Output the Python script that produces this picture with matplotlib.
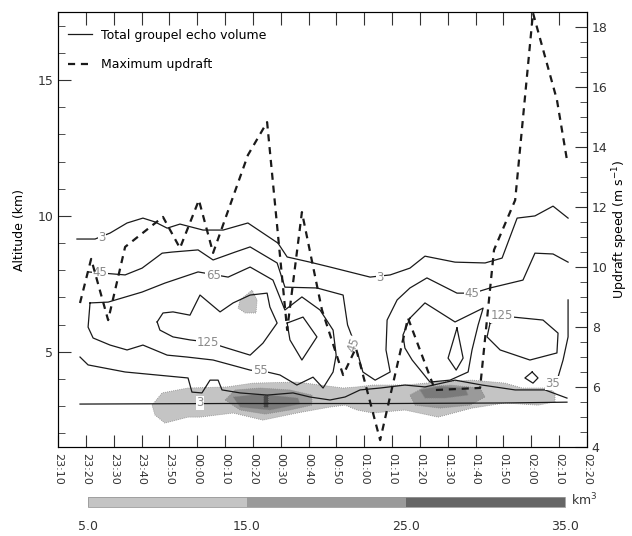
import numpy as np
import matplotlib
matplotlib.use('Agg')
from matplotlib import pyplot as plt
from matplotlib.colors import ListedColormap, BoundaryNorm
from matplotlib.patches import Polygon
from matplotlib.ticker import MultipleLocator
import matplotlib.colorbar as mcolorbar

# time axis: minutes after 23:10
time_ticks = list(range(0, 200, 10))
time_labels = ['23:10', '23:20', '23:30', '23:40', '23:50', '00:00', '00:10',
               '00:20', '00:30', '00:40', '00:50', '01:00', '01:10', '01:20',
               '01:30', '01:40', '01:50', '02:00', '02:10', '02:20']

# maximum updraft (m/s)
updraft_t = [7.9, 11.9, 18.0, 24.1, 37.7, 43.8, 50.6, 55.7, 68.2, 75.1, 82.3,
             87.6, 94.8, 102.4, 107.0, 115.7, 125.7, 135.4, 151.6, 156.6,
             164.2, 170.6, 179.2, 182.8]
updraft_w = [8.8, 10.27, 8.23, 10.67, 11.67, 10.63, 12.23, 10.47, 13.73, 14.83,
             7.9, 11.83, 8.57, 6.4, 7.3, 4.23, 8.3, 5.9, 5.97, 10.57, 12.23,
             18.47, 15.57, 13.57]

# contour lines (time, altitude km)
c3_top_t = [6.8, 13.3, 18.7, 24.8, 30.5, 34.8, 39.2, 43.8, 52.1, 59.3, 68.2,
            73.6, 79.0, 82.3, 90.5, 97.7, 112.1, 119.3, 126.4, 131.8, 142.6,
            153.4, 159.5, 164.9, 171.3, 177.8, 183.2]
c3_top_z = [9.15, 9.15, 9.37, 9.74, 9.92, 9.78, 9.55, 9.70, 9.48, 9.48, 9.74,
            9.37, 9.0, 8.49, 8.30, 8.12, 7.75, 7.83, 8.08, 8.52, 8.30, 8.27,
            8.45, 9.92, 10.0, 10.36, 9.92]

c3_bot_t = [7.9, 60.0, 120.0, 160.0, 182.8]
c3_bot_z = [3.08, 3.10, 3.10, 3.12, 3.15]

c45_t = [10.8, 20.5, 24.1, 30.2, 37.4, 40.9, 50.3, 55.7, 63.6, 69.0, 78.7,
         81.5, 93.0, 102.4, 104.0, 107.0, 109.5, 113.9, 119.3, 117.8, 118.2,
         121.8, 126.4, 132.5, 143.3, 149.1, 155.2, 167.0, 171.3, 177.8, 183.2]
c45_z = [7.94, 7.86, 7.83, 8.08, 8.63, 8.67, 8.75, 8.38, 8.67, 8.86, 8.27,
         7.38, 7.35, 7.09, 5.99, 5.18, 4.26, 3.96, 4.26, 5.07, 6.17,
         6.91, 7.35, 7.72, 7.16, 7.16, 7.35, 7.64, 8.63, 8.60, 8.30]

c65_t = [11.5, 18.0, 30.2, 38.4, 50.3, 61.1, 69.0, 77.2, 81.5, 87.6, 94.1,
         98.8, 99.9, 98.8, 95.2, 91.6, 85.8, 79.7, 75.1, 69.0, 55.7, 46.3,
         39.2, 30.5, 24.8, 18.7, 12.6, 10.8, 11.5]
c65_z = [6.80, 6.83, 7.20, 7.53, 7.94, 7.75, 8.12, 7.64, 6.54, 7.02, 6.54,
         5.80, 4.88, 4.26, 3.67, 4.07, 3.78, 4.15, 4.26, 4.33, 4.70, 4.81,
         4.88, 5.25, 5.07, 5.25, 5.51, 5.91, 6.80]

c125_t = [35.6, 37.7, 41.3, 47.4, 51.0, 58.2, 62.9, 69.0, 75.1, 76.1, 78.7,
          73.6, 69.0, 60.7, 53.9, 47.4, 41.3, 36.6, 35.6]
c125_z = [6.10, 6.43, 6.47, 6.35, 7.09, 6.47, 6.80, 7.09, 7.16, 6.65, 6.06,
          5.32, 4.88, 5.14, 5.36, 5.44, 5.55, 5.80, 6.10]

cdia_t = [82.3, 88.0, 93.0, 87.6, 83.3, 82.3]
cdia_z = [6.06, 6.28, 5.55, 4.70, 5.44, 6.06]

clow_t = [7.9, 10.8, 24.1, 46.7, 48.1, 51.7, 54.6, 57.5, 58.9, 65.4, 75.1,
          84.4, 90.5, 97.7, 103.1, 108.5, 115.7, 124.6, 131.8, 142.6, 152.3,
          164.2, 174.9, 182.8]
clow_z = [4.81, 4.52, 4.26, 4.04, 3.52, 3.49, 3.96, 3.96, 3.60, 3.49, 3.41,
          3.49, 3.34, 3.23, 3.34, 3.60, 3.67, 3.78, 3.71, 3.96, 3.78, 3.60,
          3.60, 3.30]

cmid_t = [126.4, 131.8, 142.6, 152.7, 150.9, 148.7, 147.3, 140.8, 133.6,
          127.2, 124.6, 123.9, 126.4]
cmid_z = [6.24, 6.80, 6.10, 6.61, 5.99, 5.07, 4.26, 3.96, 3.89, 4.70, 5.14,
          5.62, 6.24]

c125r_t = [155.2, 163.4, 174.2, 179.6, 179.2, 169.5, 158.8, 154.1, 155.2]
c125r_z = [6.06, 6.28, 6.17, 5.69, 4.96, 4.70, 5.07, 5.55, 6.06]

cdia2_t = [143.3, 145.5, 143.0, 140.1, 143.3]
cdia2_z = [5.88, 4.77, 4.33, 4.77, 5.88]

cdia3_t = [170.3, 172.4, 170.6, 167.7, 170.3]
cdia3_z = [4.26, 4.04, 3.85, 4.04, 4.26]

cedge_t = [183.2, 183.2, 181.4, 179.6, 176.7]
cedge_z = [6.91, 5.55, 4.70, 4.07, 3.85]

# contour labels
label_text = ['3', '3', '3', '45', '45', '45', '65', '125', '125', '55', '35']
label_t = [15.8, 115.7, 51.0, 15.1, 148.7, 106.3, 55.7, 53.9, 159.5, 72.6, 177.8]
label_z = [9.20, 7.75, 3.12, 7.92, 7.16, 5.25, 7.80, 5.36, 6.33, 4.33, 3.85]
label_rot = [0, 0, 0, 0, 0, 70, 0, 0, 0, 0, 0]

# graupel echo volume regions (km^3 class: 5-15, 15-25, 25-35)
light_t = [33.8, 37.4, 46.7, 60.7, 70.0, 85.8, 102.4, 107.4, 113.1, 124.6,
           136.5, 148.7, 160.6, 166.7, 176.0, 178.5, 178.5, 172.4, 160.6,
           148.7, 136.5, 124.6, 113.1, 107.4, 103.1, 97.7, 85.8, 73.6, 62.9,
           51.0, 46.7, 38.4, 34.8]
light_z = [3.04, 3.49, 3.67, 3.71, 3.85, 3.89, 3.67, 3.71, 3.78, 3.78, 3.89,
           3.96, 3.85, 3.67, 3.67, 3.49, 3.16, 3.04, 3.12, 2.93, 2.60, 2.86,
           2.75, 2.86, 3.04, 2.97, 2.75, 2.49, 2.75, 2.60, 2.60, 2.38, 2.68]
patch_t = [65.4, 69.7, 71.5, 71.1, 67.2, 64.7]
patch_z = [6.91, 7.27, 6.91, 6.43, 6.43, 6.61]
mid1_t = [60.0, 63.6, 72.6, 83.3, 91.2, 91.2, 83.3, 74.4, 65.4]
mid1_z = [3.23, 3.60, 3.67, 3.60, 3.41, 3.04, 2.86, 2.71, 2.86]
mid2_t = [126.4, 131.8, 140.8, 151.6, 153.4, 148.0, 137.2, 128.2]
mid2_z = [3.41, 3.71, 3.78, 3.67, 3.34, 3.04, 2.93, 3.04]
dark1_t = [62.9, 72.6, 86.2, 86.9, 76.1, 65.4]
dark1_z = [3.34, 3.45, 3.30, 3.08, 2.86, 2.97]
dark2_t = [130.0, 137.2, 146.2, 147.3, 139.0, 131.8]
dark2_z = [3.60, 3.74, 3.67, 3.41, 3.30, 3.30]
core_t = [73.6, 75.4, 75.4, 73.6]
core_z = [2.97, 2.97, 3.41, 3.41]

cbar_bounds = [5.0, 15.0, 25.0, 35.0]
cbar_colors = ['#c4c4c4', '#9a9a9a', '#666666']

plt.rcParams['font.family'] = 'DejaVu Sans'
fig = plt.figure(figsize=(6.32, 5.36), dpi=100)
ax = fig.add_axes([0.0918, 0.166, 0.837, 0.8116])

fill_sets = [(light_t, light_z, cbar_colors[0]), (patch_t, patch_z, cbar_colors[0]),
             (mid1_t, mid1_z, cbar_colors[1]), (mid2_t, mid2_z, cbar_colors[1]),
             (dark1_t, dark1_z, '#7a7a7a'), (dark2_t, dark2_z, '#7a7a7a'),
             (core_t, core_z, '#4a4a4a')]
for tt, zz, col in fill_sets:
    ax.add_patch(Polygon(np.column_stack([tt, zz]), closed=True, facecolor=col,
                         edgecolor='#888888', lw=0.6, ls=(0, (1, 1.5)), zorder=1))

curves = [(c3_top_t, c3_top_z), (c3_bot_t, c3_bot_z), (c45_t, c45_z),
          (c65_t, c65_z), (c125_t, c125_z), (cdia_t, cdia_z), (clow_t, clow_z),
          (cmid_t, cmid_z), (c125r_t, c125r_z), (cdia2_t, cdia2_z),
          (cdia3_t, cdia3_z), (cedge_t, cedge_z)]
for tt, zz in curves:
    ax.plot(tt, zz, color='#1a1a1a', lw=0.9, zorder=3)

for s, tt, zz, r in zip(label_text, label_t, label_z, label_rot):
    ax.text(tt, zz, s, fontsize=8.5, color='#8a8a8a', ha='center', va='center',
            rotation=r, zorder=4,
            bbox=dict(boxstyle='square,pad=0.05', fc='white', ec='none'))

ax.set_xlim(0, 190)
ax.set_ylim(1.5, 17.5)
ax.set_xticks(time_ticks)
ax.set_xticklabels(time_labels, rotation=270, fontsize=8)
ax.yaxis.set_major_locator(MultipleLocator(5))
ax.yaxis.set_minor_locator(MultipleLocator(1))
ax.tick_params(axis='both', which='major', direction='in', length=9,
               top=True, labelsize=9, colors='#333333')
ax.tick_params(axis='x', labelsize=8, pad=4)
ax.tick_params(axis='y', which='minor', direction='in', length=5, colors='#333333')
ax.set_ylabel('Altitude (km)', fontsize=9, labelpad=8)
for sp in ax.spines.values():
    sp.set_color('#333333')

ax2 = ax.twinx()
ax2.plot(updraft_t, updraft_w, color='#1a1a1a', lw=1.6, ls=(0, (3.2, 2.6)), zorder=5)
ax2.set_ylim(4, 18.5)
ax2.yaxis.set_major_locator(MultipleLocator(2))
ax2.yaxis.set_minor_locator(MultipleLocator(0.5))
ax2.tick_params(axis='y', which='major', direction='in', length=9, labelsize=9,
                colors='#333333')
ax2.tick_params(axis='y', which='minor', direction='in', length=5, colors='#333333')
ax2.set_ylabel('Updraft speed (m s$^{-1}$)', fontsize=9, labelpad=2)

h1, = ax.plot([], [], color='#1a1a1a', lw=0.9)
h2, = ax.plot([], [], color='#1a1a1a', lw=1.6, ls=(0, (3.2, 2.6)))
ax.legend([h1, h2], ['Total groupel echo volume', 'Maximum updraft'],
          loc='upper left', bbox_to_anchor=(0.0, 0.985), frameon=False,
          fontsize=9, handlelength=1.9, handletextpad=0.7, labelspacing=1.35,
          borderaxespad=0.4)

cax = fig.add_axes([0.139, 0.054, 0.755, 0.019])
cmap = ListedColormap(cbar_colors)
norm = BoundaryNorm(cbar_bounds, cmap.N)
cb = mcolorbar.ColorbarBase(cax, cmap=cmap, norm=norm, orientation='horizontal',
                            ticks=cbar_bounds)
cb.set_ticklabels(['%.1f' % b for b in cbar_bounds])
cb.outline.set_edgecolor('#999999')
cb.outline.set_linewidth(0.6)
cax.tick_params(length=0, labelsize=9, pad=9, colors='#333333')
fig.text(0.903, 0.058, 'km$^3$', fontsize=9, color='#333333')

fig.savefig('out.png', dpi=100)
